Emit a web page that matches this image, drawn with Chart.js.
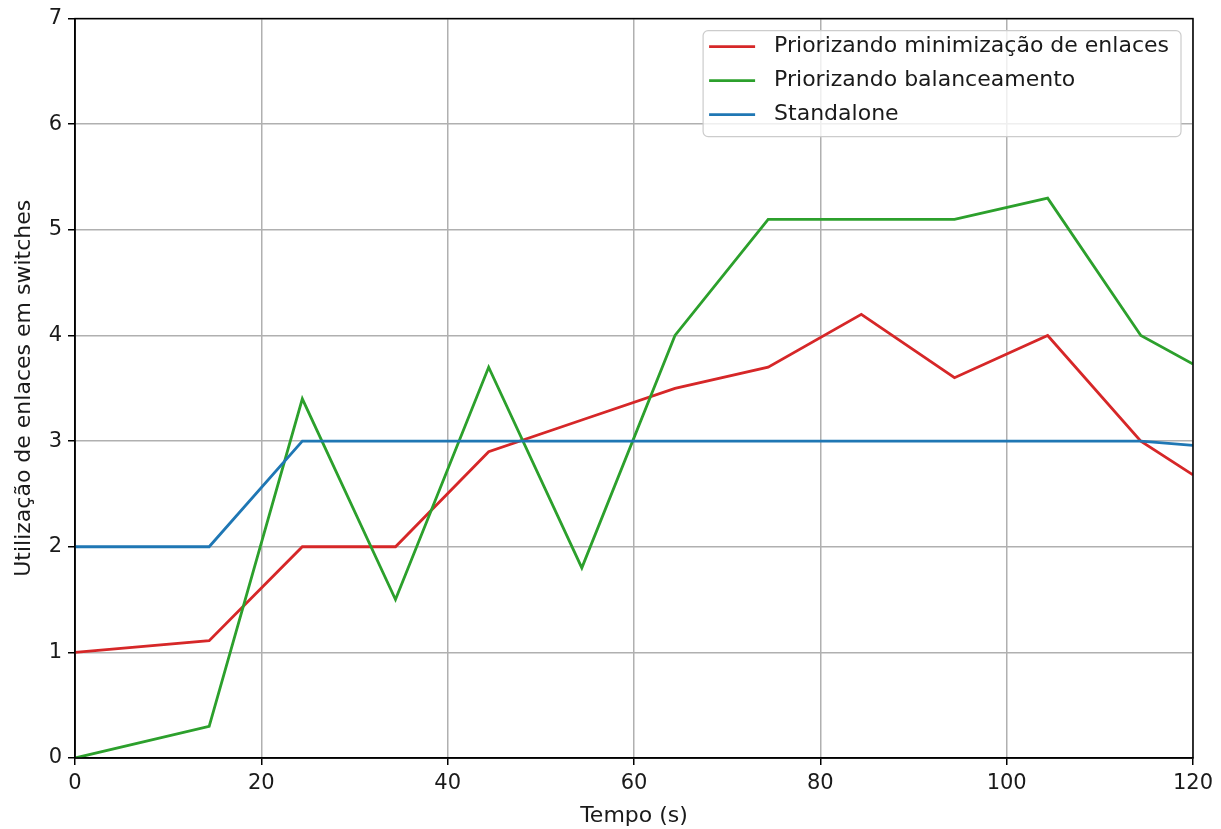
<!DOCTYPE html>
<html>
<head>
<meta charset="utf-8">
<script src="https://cdn.jsdelivr.net/npm/chart.js@4.4.1/dist/chart.umd.min.js"></script>
<style>
  body { margin: 0; background: #fff; }
  canvas { display: block; }
</style>
</head>
<body>
<canvas id="chart" width="1221" height="829"></canvas>
<script>
const times = [0, 14.4, 24.4, 34.4, 44.4, 54.4, 64.4, 74.4, 84.4, 94.4, 104.4, 114.4, 120];
const minimizacao = [1.0, 1.11, 2.0, 2.0, 2.9, 3.2, 3.5, 3.7, 4.2, 3.6, 4.0, 3.0, 2.68];
const balanceamento = [0, 0.3, 3.4, 1.5, 3.7, 1.8, 4.0, 5.1, 5.1, 5.1, 5.3, 4.0, 3.73];
const standalone = [2, 2, 3, 3, 3, 3, 3, 3, 3, 3, 3, 3, 2.96];
const seriesLabels = ["Priorizando minimização de enlaces", "Priorizando balanceamento", "Standalone"];

const FONT = "DejaVu Sans";
const TEXT = "#1a1a1a";

const toPoints = (vals) => vals.map((v, i) => ({ x: times[i], y: v }));

// top/right spines + legend box like matplotlib
const framePlugin = {
  id: "frame",
  afterDatasetsDraw(chart) {
    const { ctx, chartArea: a } = chart;
    ctx.save();
    ctx.strokeStyle = "#000";
    ctx.lineWidth = 1.5;
    ctx.strokeRect(a.left, a.top, a.right - a.left, a.bottom - a.top);

    // legend
    ctx.font = "22px '" + FONT + "'";
    let textW = 0;
    chart.data.datasets.forEach(ds => { textW = Math.max(textW, ctx.measureText(ds.label).width); });
    const right = a.right - 12, top = a.top + 12;
    const w = 6 + 46 + 19 + textW + 12, h = 106;
    const left = right - w;
    ctx.beginPath();
    ctx.roundRect(left, top, w, h, 5);
    ctx.fillStyle = "rgba(255,255,255,0.8)";
    ctx.fill();
    ctx.strokeStyle = "#cccccc";
    ctx.lineWidth = 1.2;
    ctx.stroke();
    chart.data.datasets.forEach((ds, i) => {
      const y = top + 16 + i * 34;
      ctx.beginPath();
      ctx.moveTo(left + 6, y);
      ctx.lineTo(left + 52, y);
      ctx.strokeStyle = ds.borderColor;
      ctx.lineWidth = 2.8;
      ctx.stroke();
      ctx.fillStyle = TEXT;
      ctx.textBaseline = "middle";
      ctx.fillText(ds.label, left + 71, y);
    });
    ctx.restore();
  }
};

new Chart(document.getElementById("chart").getContext("2d"), {
  type: "line",
  data: {
    datasets: [
      { label: seriesLabels[0], data: toPoints(minimizacao), borderColor: "#d62728", order: 3 },
      { label: seriesLabels[1], data: toPoints(balanceamento), borderColor: "#2ca02c", order: 2 },
      { label: seriesLabels[2], data: toPoints(standalone), borderColor: "#1f77b4", order: 1 },
    ],
  },
  options: {
    responsive: false,
    animation: false,
    elements: {
      point: { radius: 0 },
      line: { borderWidth: 2.8, tension: 0 },
    },
    layout: { padding: { top: 17, right: 28, left: 0, bottom: 0 } },
    plugins: {
      legend: { display: false },
      tooltip: { enabled: false },
    },
    scales: {
      x: {
        type: "linear",
        min: 0,
        max: 120,
        afterFit: (s) => { s.height = 71; },
        ticks: { stepSize: 20, color: TEXT, font: { family: FONT, size: 21 }, padding: 6, maxRotation: 0 },
        grid: { color: "#b0b0b0", lineWidth: 1.5, tickLength: 7, tickColor: "#000", tickWidth: 1.5 },
        border: { color: "#000", width: 1.5 },
        title: { display: true, text: "Tempo (s)", color: TEXT, font: { family: FONT, size: 22 }, padding: { top: 0, bottom: 0 } },
      },
      y: {
        min: 0,
        max: 7,
        afterFit: (s) => { s.width = 75; },
        ticks: { stepSize: 1, color: TEXT, font: { family: FONT, size: 21 }, padding: 6 },
        grid: { color: "#b0b0b0", lineWidth: 1.5, tickLength: 7, tickColor: "#000", tickWidth: 1.5 },
        border: { color: "#000", width: 1.5 },
        title: { display: true, text: "Utilização de enlaces em switches", color: TEXT, font: { family: FONT, size: 22 }, padding: { top: 11, bottom: 0 } },
      },
    },
  },
  plugins: [framePlugin],
});
</script>
</body>
</html>
